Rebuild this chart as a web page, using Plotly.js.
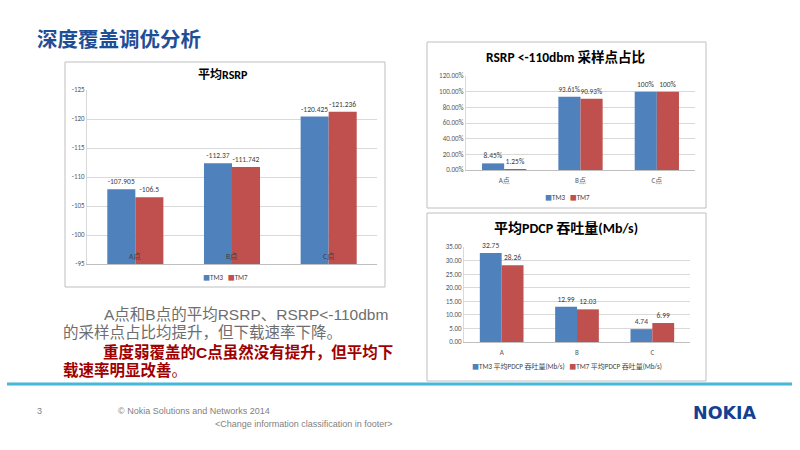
<!DOCTYPE html>
<html>
<head>
<meta charset="utf-8">
<script src="https://cdn.plot.ly/plotly-3.0.1.min.js"></script>
<style>
html,body{margin:0;padding:0;background:#fff;}
#chart{width:800px;height:450px;}
</style>
</head>
<body>
<div id="chart"></div>
<script>
// ---- data ----
const rsrpCats = ["A点", "B点", "C点"];
const rsrpTM3 = [-107.905, -112.37, -120.425];
const rsrpTM7 = [-106.5, -111.742, -121.236];
const rsrpTicks = [-125, -120, -115, -110, -105, -100, -95];

const ratioCats = ["A点", "B点", "C点"];
const ratioTM3 = [8.45, 93.61, 100];
const ratioTM7 = [1.25, 90.93, 100];

const pdcpCats = ["A", "B", "C"];
const pdcpTM3 = [32.75, 12.99, 4.74];
const pdcpTM7 = [28.26, 12.03, 6.99];

const seriesNames = ["TM3", "TM7"];
const pdcpNames = ["TM3 平均PDCP 吞吐量(Mb/s)", "TM7 平均PDCP 吞吐量(Mb/s)"];

// ---- styling ----
const BLUE = "#4F81BD", RED = "#C0504D";
const COLORS = [BLUE, RED];
const FONT = "Calibri, Carlito, 'Noto Sans CJK SC', 'Liberation Sans', sans-serif";
const W = 800, H = 450;
const px = v => v / W;
const py = v => 1 - v / H;
const lblFont = {size: 7.5, color: "#404040", family: FONT};

function bar(x, y, name, color, xa, ya, labels, clip) {
  return {
    type: "bar", x: x, y: y, name: name, xaxis: xa, yaxis: ya, showlegend: false,
    marker: {color: color},
    text: labels, texttemplate: "%{text}", textposition: "outside",
    textfont: lblFont, cliponaxis: clip, hoverinfo: "skip"
  };
}
const asText = arr => arr.map(v => String(v));
const asPct = arr => arr.map(v => String(v) + "%");
const as2f = arr => arr.map(v => v.toFixed(2));

const data = [
  bar(rsrpCats, rsrpTM3, seriesNames[0], BLUE, "x", "y", asText(rsrpTM3), true),
  bar(rsrpCats, rsrpTM7, seriesNames[1], RED, "x", "y", asText(rsrpTM7), true),
  bar(ratioCats, ratioTM3, seriesNames[0], BLUE, "x2", "y2", asPct(ratioTM3), false),
  bar(ratioCats, ratioTM7, seriesNames[1], RED, "x2", "y2", asPct(ratioTM7), false),
  bar(pdcpCats, pdcpTM3, pdcpNames[0], BLUE, "x3", "y3", as2f(pdcpTM3), false),
  bar(pdcpCats, pdcpTM7, pdcpNames[1], RED, "x3", "y3", as2f(pdcpTM7), false)
];

const tickF = {size: 7, color: "#595959", family: FONT};
const yCommon = {showgrid: true, gridcolor: "#d9d9d9", gridwidth: 1, zeroline: false,
  showline: true, linecolor: "#d9d9d9", tickfont: tickF, ticks: "", fixedrange: true};
const xCommon = {showgrid: false, zeroline: false, showline: true, linecolor: "#bfbfbf",
  tickfont: tickF, ticks: "", fixedrange: true};

const annotations = [];
function ann(text, x, y, opts) {
  annotations.push(Object.assign({text: text, x: px(x), y: py(y), xref: "paper", yref: "paper",
    showarrow: false, xanchor: "left", yanchor: "middle"}, opts || {}));
}

// legends built from series names
function legendText(names) {
  return names.map((n, i) => "<span style='color:" + COLORS[i] + "'>■</span>" + n).join("   ");
}
const legF = {size: 7, color: "#404040", family: FONT};
ann(legendText(seriesNames), 225, 277, {xanchor: "center", font: legF});
ann(legendText(seriesNames), 567, 197, {xanchor: "center", font: legF});
ann(legendText(pdcpNames), 567, 366, {xanchor: "center", font: legF});

// slide title
ann("<b>深度覆盖调优分析</b>", 35, 38, {font: {size: 20.5, color: "#1F4E96", family: "'Noto Sans CJK SC', sans-serif"}});

// chart titles
ann("<b>平均RSRP</b>", 223, 75, {xanchor: "center", font: {size: 12, color: "#000", family: FONT}});
ann("<b>RSRP &lt;-110dbm 采样点占比</b>", 565, 57, {xanchor: "center", font: {size: 13.5, color: "#000", family: FONT}});
ann("<b>平均PDCP 吞吐量(Mb/s)</b>", 566, 228, {xanchor: "center", font: {size: 14, color: "#000", family: FONT}});

// category labels for chart 1 (drawn inside plot near the bottom)
rsrpCats.forEach(c => {
  annotations.push({text: c, x: c, y: -96.3, xref: "x", yref: "y", showarrow: false,
    xanchor: "center", yanchor: "middle", font: {size: 7.5, color: "#404040", family: FONT}});
});

// body text
const bodyFont = "'Liberation Sans', Arial, 'Noto Sans CJK SC', sans-serif";
ann("A点和B点的平均RSRP、RSRP&lt;-110dbm", 102, 314, {font: {size: 15.5, color: "#6e6e6e", family: bodyFont}});
ann("的采样点占比均提升，但下载速率下降。", 61, 332, {font: {size: 15.5, color: "#6e6e6e", family: bodyFont}});
ann("<b>重度弱覆盖的C点虽然没有提升，但平均下</b>", 101, 352, {font: {size: 15.5, color: "#A00000", family: bodyFont}});
ann("<b>载速率明显改善</b>。", 61, 370, {font: {size: 15.5, color: "#A00000", family: bodyFont}});

// footer
const footF = {size: 9, color: "#7f7f7f", family: "'Liberation Sans Narrow', 'Liberation Sans', Arial, sans-serif"};
ann("3", 35, 411, {font: footF});
ann("© Nokia Solutions and Networks 2014", 116, 411, {font: footF});
ann("&lt;Change information classification in footer&gt;", 213, 424, {font: footF});
ann("<b>NOKIA</b>", 691, 413, {font: {size: 17.5, color: "#124191", family: "'DejaVu Sans', sans-serif"}});

const shapes = [
  {type: "rect", xref: "paper", yref: "paper", x0: px(65), x1: px(385), y0: py(287), y1: py(62),
    line: {color: "#bfbfbf", width: 1}},
  {type: "rect", xref: "paper", yref: "paper", x0: px(427), x1: px(706), y0: py(208), y1: py(42),
    line: {color: "#bfbfbf", width: 1}},
  {type: "rect", xref: "paper", yref: "paper", x0: px(427), x1: px(706), y0: py(381), y1: py(213),
    line: {color: "#bfbfbf", width: 1}},
  {type: "line", xref: "paper", yref: "paper", x0: px(7), x1: px(792), y0: py(384), y1: py(384),
    line: {color: "#45B8D8", width: 3}}
];

const layout = {
  width: W, height: H, margin: {l: 0, r: 0, t: 0, b: 0},
  paper_bgcolor: "#fff", plot_bgcolor: "rgba(0,0,0,0)",
  font: {family: FONT},
  barmode: "group", bargap: 0.42, bargroupgap: 0,
  showlegend: false,
  xaxis: Object.assign({}, xCommon, {domain: [px(87), px(377)], anchor: "y", showticklabels: false}),
  yaxis: Object.assign({}, yCommon, {domain: [py(264), py(90)], anchor: "x", range: [-95, -125],
    tickmode: "array", tickvals: rsrpTicks, ticktext: rsrpTicks.map(String)}),
  xaxis2: Object.assign({}, xCommon, {domain: [px(466), px(695)], anchor: "y2", ticklabelstandoff: 4}),
  yaxis2: Object.assign({}, yCommon, {domain: [py(170), py(76)], anchor: "x2", range: [0, 120],
    dtick: 20, tickformat: ".2f", ticksuffix: "%"}),
  xaxis3: Object.assign({}, xCommon, {domain: [px(464), px(690)], anchor: "y3", ticklabelstandoff: 4}),
  yaxis3: Object.assign({}, yCommon, {domain: [py(342), py(247)], anchor: "x3", range: [0, 35],
    dtick: 5, tickformat: ".2f"}),
  annotations: annotations,
  shapes: shapes
};

Plotly.newPlot("chart", data, layout, {displayModeBar: false, staticPlot: true});
</script>
</body>
</html>
